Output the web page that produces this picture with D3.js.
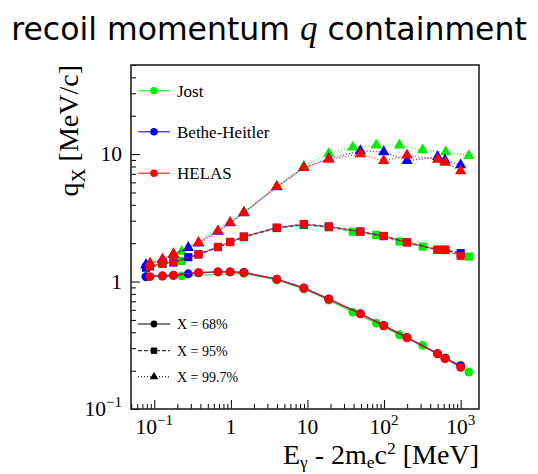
<!DOCTYPE html>
<html>
<head>
<meta charset="utf-8">
<script src="https://cdn.jsdelivr.net/npm/d3@7"></script>
<style>
  html, body { margin: 0; padding: 0; background: #fff; }
  svg { display: block; }
</style>
</head>
<body>
<svg id="chart" width="538" height="474"></svg>
<script>
// Photon energy above pair threshold, E_gamma - 2 m_e c^2 [MeV], per model
const jostE  = [0.078, 0.228, 1.478, 3.978, 8.978, 18.978, 38.978, 78.978, 158.978, 318.978, 638.978, 1278.978];
const bhE    = [0.078, 0.128, 0.178, 0.278, 0.378, 0.678, 0.978, 1.478, 3.978, 8.978, 18.978, 48.978, 98.978, 198.978, 498.978, 623.978, 998.978];
const helasE = [0.088, 0.128, 0.178, 0.378, 0.678, 0.978, 1.478, 3.978, 8.978, 18.978, 48.978, 98.978, 198.978, 498.978, 623.978, 998.978];

// Recoil momentum q_X [MeV/c] containing X = 68%, 95%, 99.7%
const jost68  = [1.09, 1.108, 1.16, 1.03, 0.875, 0.715, 0.576, 0.472, 0.382, 0.316, 0.252, 0.195];
const jost95  = [1.28, 1.452, 2.22, 2.62, 2.78, 2.66, 2.46, 2.32, 2.06, 1.88, 1.76, 1.57];
const jost997 = [1.35, 1.718, 3.5, 5.6, 8.0, 10.1, 11.3, 11.76, 11.76, 10.75, 10.4, 9.7];

const bh68  = [1.094, 1.105, 1.12, 1.15, 1.17, 1.19, 1.19, 1.18, 1.045, 0.89, 0.73, 0.56, 0.452, 0.365, 0.272, 0.25, 0.219];
const bh95  = [1.287, 1.38, 1.41, 1.553, 1.63, 1.86, 2.04, 2.25, 2.64, 2.8, 2.7, 2.47, 2.27, 2.03, 1.78, 1.78, 1.67];
const bh997 = [1.352, 1.48, 1.63, 1.846, 2.0, 2.47, 2.88, 3.45, 5.52, 7.8, 9.2, 10.6, 10.4, 8.87, 9.52, 8.97, 8.2];

const helas68  = [1.094, 1.108, 1.12, 1.176, 1.19, 1.19, 1.176, 1.044, 0.888, 0.728, 0.558, 0.45, 0.362, 0.271, 0.249, 0.212];
const helas95  = [1.311, 1.394, 1.419, 1.639, 1.869, 2.046, 2.253, 2.646, 2.83, 2.7, 2.46, 2.28, 2.03, 1.77, 1.77, 1.59];
const helas997 = [1.393, 1.497, 1.648, 2.02, 2.49, 2.9, 3.47, 5.54, 7.81, 9.09, 10.0, 8.87, 9.82, 9.09, 8.61, 7.36];

const modelNames = ["Jost", "Bethe-Heitler", "HELAS"];
const levelNames = ["X = 68%", "X = 95%", "X = 99.7%"];
const xMajorTicks = [0.1, 1, 10, 100, 1000];
const xMajorLabels = [["10", "\u22121"], ["1", ""], ["10", ""], ["10", "2"], ["10", "3"]];
const yMajorTicks = [0.1, 1, 10];
const yMajorLabels = [["10", "\u22121"], ["1", ""], ["10", ""]];

const colors = ["#00ee00", "#0000ff", "#ff0000"];
const dashes = [null, "4,2", "1,2"];
const shapes = [d3.symbolCircle, d3.symbolSquare, d3.symbolTriangle];
const shapeSizes = [62, 66, 56];

const svg = d3.select("#chart");
const L = 131, R = 479, T = 65, B = 409;

const x = d3.scaleLog().domain([0.0497, 1734]).range([L, R]);
const y = d3.scaleLog().domain([0.1, 50]).range([B, T]);

const serif = "'Liberation Serif', 'Times New Roman', serif";

// title
const title = svg.append("text")
  .attr("x", 269).attr("y", 40)
  .attr("text-anchor", "middle")
  .attr("font-family", "'DejaVu Sans', sans-serif")
  .attr("font-size", 31.5)
  .attr("fill", "#000");
title.append("tspan").text("recoil momentum ");
title.append("tspan").attr("font-family", serif).attr("font-style", "italic").attr("font-size", 35).text("q");
title.append("tspan").text(" containment");

// minor tick values for both log axes
function minorTicks(scale) {
  const [a, b] = scale.domain();
  const out = [];
  for (let e = Math.floor(Math.log10(a)); e <= Math.ceil(Math.log10(b)); e++) {
    for (let m = 2; m <= 9; m++) {
      const v = m * Math.pow(10, e);
      if (v >= a && v <= b) out.push(v);
    }
  }
  return out;
}

const axisStyle = g => {
  g.select(".domain").remove();
  g.selectAll("line").attr("stroke", "#000").attr("stroke-width", 1);
  g.selectAll("text").remove();
};

svg.append("g").attr("transform", `translate(0,${B})`)
  .call(d3.axisBottom(x).tickValues(minorTicks(x)).tickSize(-5).tickFormat(""))
  .call(axisStyle);
svg.append("g").attr("transform", `translate(0,${B})`)
  .call(d3.axisBottom(x).tickValues(xMajorTicks).tickSize(-9).tickFormat(""))
  .call(axisStyle);
svg.append("g").attr("transform", `translate(${L},0)`)
  .call(d3.axisLeft(y).tickValues(minorTicks(y)).tickSize(-5).tickFormat(""))
  .call(axisStyle);
svg.append("g").attr("transform", `translate(${L},0)`)
  .call(d3.axisLeft(y).tickValues(yMajorTicks).tickSize(-9).tickFormat(""))
  .call(axisStyle);

// tick labels with superscript exponents
function powLabel(sel, parts) {
  sel.append("tspan").text(parts[0]);
  if (parts[1]) sel.append("tspan").attr("font-size", 15).attr("dy", -9).text(parts[1]);
}
xMajorTicks.forEach((v, i) => {
  const t = svg.append("text")
    .attr("x", x(v)).attr("y", 434)
    .attr("text-anchor", "middle")
    .attr("font-family", serif).attr("font-size", 21.5);
  powLabel(t, xMajorLabels[i]);
});
yMajorTicks.forEach((v, i) => {
  const t = svg.append("text")
    .attr("x", 122).attr("y", y(v) + 7)
    .attr("text-anchor", "end")
    .attr("font-family", serif).attr("font-size", 21.5);
  powLabel(t, yMajorLabels[i]);
});

// axis titles (laid out from the origin, then shifted so they end at the frame edge)
const xtG = svg.append("g");
const xt = xtG.append("text")
  .attr("x", 0).attr("y", 464)
  .attr("font-family", serif).attr("font-size", 28);
xt.append("tspan").text("E");
xt.append("tspan").attr("font-size", 17.5).attr("dy", 4).text("\u03b3");
xt.append("tspan").attr("dy", -4).text(" - 2m");
xt.append("tspan").attr("font-size", 17.5).attr("dy", 4).text("e");
xt.append("tspan").attr("dy", -4).text("c");
xt.append("tspan").attr("font-size", 17.5).attr("dy", -10).text("2");
xt.append("tspan").attr("dy", 10).text(" [MeV]");

const ytG = svg.append("g");
const yt = ytG.append("text")
  .attr("x", 0).attr("y", 0)
  .attr("font-family", serif).attr("font-size", 28);
yt.append("tspan").text("q");
yt.append("tspan").attr("font-size", 19.5).attr("dy", 7).text("X");
yt.append("tspan").attr("dy", -7).text(" [MeV/c]");

function placeTitles() {
  const bx = xt.node().getBBox();
  xtG.attr("transform", `translate(${R - (bx.x + bx.width)},0)`);
  const by = yt.node().getBBox();
  ytG.attr("transform", `translate(78,${T + by.x + by.width}) rotate(-90)`);
}
placeTitles();
if (document.fonts && document.fonts.ready) document.fonts.ready.then(placeTitles);

// data series: one model per colour, one containment level per line style/marker
const models = [
  { E: jostE,  levels: [jost68, jost95, jost997] },
  { E: bhE,    levels: [bh68, bh95, bh997] },
  { E: helasE, levels: [helas68, helas95, helas997] }
];

const line = d3.line().x(d => x(d[0])).y(d => y(d[1]));
const plot = svg.append("g");

models.forEach((m, mi) => {
  m.levels.forEach((vals, li) => {
    const pts = m.E.map((e, k) => [e, vals[k]]);
    plot.append("path")
      .datum(pts)
      .attr("d", line)
      .attr("fill", "none")
      .attr("stroke", colors[mi])
      .attr("stroke-opacity", 0.75)
      .attr("stroke-width", 1.4)
      .attr("stroke-dasharray", dashes[li]);
    plot.selectAll(null)
      .data(pts)
      .enter().append("path")
      .attr("transform", d => `translate(${x(d[0])},${y(d[1])})`)
      .attr("d", d3.symbol().type(shapes[li]).size(shapeSizes[li]))
      .attr("fill", colors[mi]);
  });
});

// frame
svg.append("rect")
  .attr("x", L).attr("y", T).attr("width", R - L).attr("height", B - T)
  .attr("fill", "none").attr("stroke", "#222").attr("stroke-width", 1.6);

// legend: models
const lg1Y = [90.7, 131.7, 173.3];
modelNames.forEach((name, i) => {
  const g = svg.append("g");
  g.append("line").attr("x1", 138).attr("x2", 170).attr("y1", lg1Y[i]).attr("y2", lg1Y[i])
    .attr("stroke", colors[i]).attr("stroke-opacity", 0.75).attr("stroke-width", 1.4);
  g.append("path").attr("transform", `translate(154,${lg1Y[i]})`)
    .attr("d", d3.symbol().type(d3.symbolCircle).size(45)).attr("fill", colors[i]);
  g.append("text").attr("x", 177).attr("y", lg1Y[i] + 6)
    .attr("font-family", serif).attr("font-size", 17).text(name);
});

// legend: containment levels
const lg2Y = [324, 350.7, 376.7];
const lg2Sizes = [36, 40, 32];
levelNames.forEach((name, i) => {
  const g = svg.append("g");
  g.append("line").attr("x1", 138).attr("x2", 170).attr("y1", lg2Y[i]).attr("y2", lg2Y[i])
    .attr("stroke", "#000").attr("stroke-width", 1).attr("stroke-dasharray", dashes[i]);
  g.append("path").attr("transform", `translate(154,${lg2Y[i]})`)
    .attr("d", d3.symbol().type(shapes[i]).size(lg2Sizes[i])).attr("fill", "#000");
  g.append("text").attr("x", 177).attr("y", lg2Y[i] + 5)
    .attr("font-family", serif).attr("font-size", 14).text(name);
});
</script>
</body>
</html>
